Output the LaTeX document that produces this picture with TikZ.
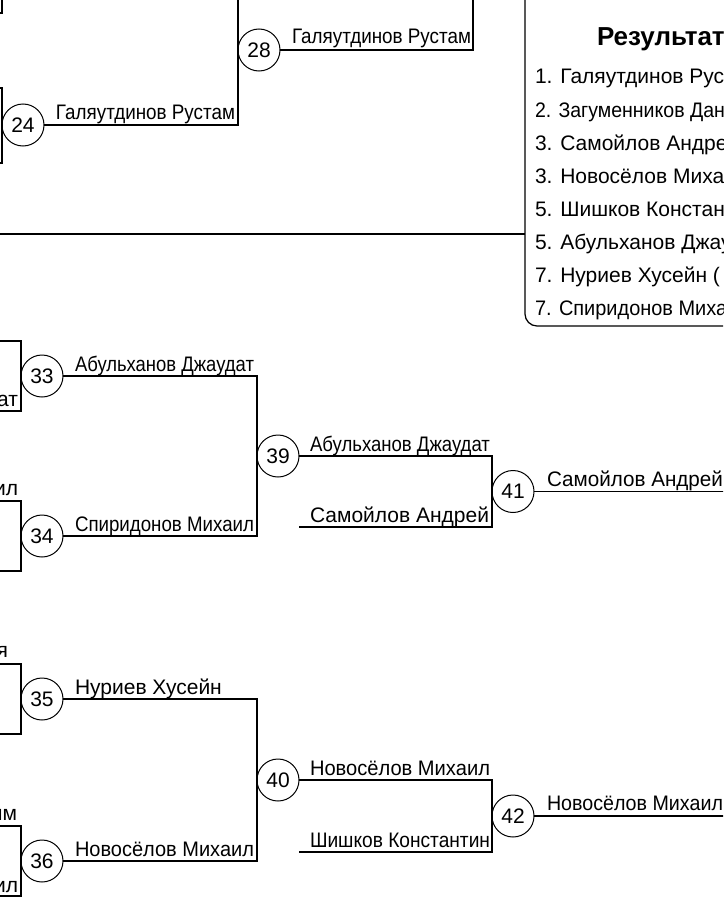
\documentclass[tikz,border=0pt]{standalone}
\usepackage{fontspec}
\setmainfont{Liberation Sans}
\usepackage{graphicx}
\usetikzlibrary{calc}
\newlength\fitwd
\newcommand\fitname[2]{\settowidth\fitwd{#2}\ifdim\fitwd>#1\relax\resizebox{#1}{\height}{#2}\else#2\fi}
\begin{document}
\begin{tikzpicture}[x=1pt,y=-1pt,
  every node/.style={inner sep=0pt,outer sep=0pt},
  num/.style={circle,draw,line width=1pt,minimum size=42pt,font=\fontsize{21pt}{24pt}\selectfont},
  lab/.style={anchor=base west,font=\fontsize{21pt}{24pt}\selectfont},
  frag/.style={anchor=base east,font=\fontsize{21pt}{24pt}\selectfont},
  res/.style={anchor=base west,font=\fontsize{21pt}{24pt}\selectfont},
  ttl/.style={anchor=base west,font=\bfseries\fontsize{26pt}{30pt}\selectfont},
  wire/.style={line width=1.25pt}]
\useasboundingbox (0,0) rectangle (723,899);
\clip (0,0) rectangle (723,899);
\fill[white] (0,0) rectangle (723,899);

% ---------- top part ----------
\coordinate (top0) at (0,-3);
\coordinate (up30) at (473,-3);
\node[num] (c24) at (23,125) {24};
\node[num] (c28) at (259,50) {28};
\coordinate (stub) at (-5,13);
\draw[wire] (stub) -- (stub -| c24.west) -- (c24.west |- top0);
\draw[wire] ($(c24.west)+(-25,-37)$) -- ($(c24.west)+(0,-37)$) -- ($(c24.west)+(0,38)$) -- ($(c24.west)+(-25,38)$);
\draw[wire] (c24.east) -- (c24.east -| c28.west) -- (c28.west |- top0);
\draw[wire] (c28.east) -- (c28.east -| up30) -- (up30);
\node[lab] (l24) at (56,119) {\fitname{179pt}{Галяутдинов Рустам}};
\node[lab] (l28) at (292,44) {\fitname{179pt}{Галяутдинов Рустам}};

% separator
\coordinate (sepL) at (-5,234);
\coordinate (boxL) at (525,0);
\draw[wire] (sepL) -- (sepL -| boxL);

% ---------- results box ----------
\draw[wire,rounded corners=12pt] (525,-5) -- (525,326) -- (740,326);
\node[ttl] (rt) at (597,46) {Результат};
\node[res] (r1) at (535,84) {1. Галяутдинов Рустам};
\node[res] (r2) at (535,117) {\scalebox{0.93}[1]{2. Загуменников Дан}};
\node[res] (r3) at (535,150) {3. Самойлов Андрей};
\node[res] (r4) at (535,183) {3. Новосёлов Михаил};
\node[res] (r5) at (535,216) {5. Шишков Константин};
\node[res] (r6) at (535,249) {5. Абульханов Джаудат};
\node[res] (r7) at (535,282) {7. Нуриев Хусейн (};
\node[res] (r8) at (535,315) {\scalebox{0.95}[1]{7. Спиридонов Михаил}};

% ---------- bottom part ----------
\node[num] (c33) at (42,376) {33};
\node[num] (c34) at (42,536) {34};
\node[num] (c35) at (42,699) {35};
\node[num] (c36) at (42,861) {36};
\node[num] (c39) at (278,456) {39};
\node[num] (c40) at (278,780) {40};
\node[num] (c41) at (513,491.5) {41};
\node[num] (c42) at (513,816) {42};
\coordinate (s41) at (299,527);
\coordinate (s42) at (299,852);
\coordinate (redge) at (735,0);

\foreach \c in {c33,c34,c35,c36}{
  \draw[wire] ($(\c.west)+(-25,-35)$) -- ($(\c.west)+(0,-35)$) -- ($(\c.west)+(0,35)$) -- ($(\c.west)+(-25,35)$);
}
\draw[wire] (c33.east) -- (c33.east -| c39.west) -- (c34.east -| c39.west) -- (c34.east);
\draw[wire] (c35.east) -- (c35.east -| c40.west) -- (c36.east -| c40.west) -- (c36.east);
\draw[wire] (c39.east) -- (c39.east -| c41.west) -- (c41.west |- s41) -- (s41);
\draw[wire] (c40.east) -- (c40.east -| c42.west) -- (c42.west |- s42) -- (s42);
\draw[wire] (c41.east) -- (c41.east -| redge);
\draw[wire] (c42.east) -- (c42.east -| redge);

% fragments of names from the column at the left
\node[frag] (f1) at (18,406) {ат};
\node[frag] (f2) at (18,495) {ил};
\node[frag] (f3) at (8,657) {я};
\node[frag] (f4) at (17,820) {им};
\node[frag] (f5) at (18,892) {ил};

% labels
\node[lab] (l33) at (75,371) {\fitname{179pt}{Абульханов Джаудат}};
\node[lab] (l34) at (75,531) {\fitname{179pt}{Спиридонов Михаил}};
\node[lab] (l35) at (75,694) {\fitname{179pt}{Нуриев Хусейн}};
\node[lab] (l36) at (75,856) {\fitname{179pt}{Новосёлов Михаил}};
\node[lab] (l39) at (310,451) {\fitname{180pt}{Абульханов Джаудат}};
\node[lab] (ls1) at (310,522) {\fitname{180pt}{Самойлов Андрей}};
\node[lab] (l40) at (310,775) {\fitname{180pt}{Новосёлов Михаил}};
\node[lab] (ls2) at (310,847) {\fitname{180pt}{Шишков Константин}};
\node[lab] (l41) at (547,486) {\fitname{176pt}{Самойлов Андрей}};
\node[lab] (l42) at (547,810) {\fitname{176pt}{Новосёлов Михаил}};
\end{tikzpicture}
\end{document}
